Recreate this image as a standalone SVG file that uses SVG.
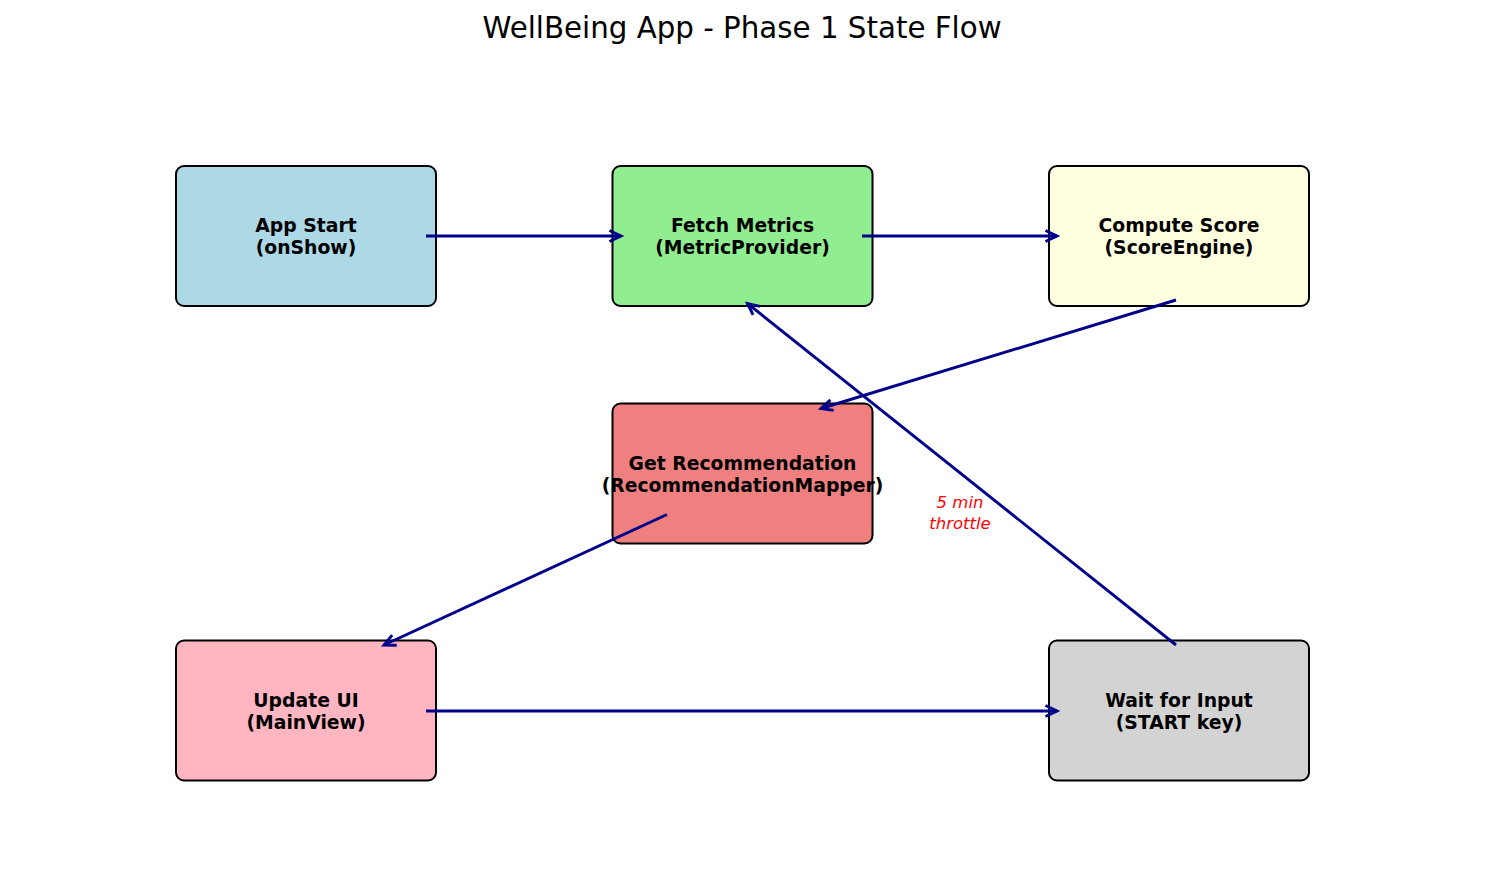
<svg xmlns="http://www.w3.org/2000/svg" width="1485" height="884" viewBox="0 0 1485 884">
<style>
.box{stroke:#000;stroke-width:2}
.lbl{font-family:"DejaVu Sans",sans-serif;font-weight:bold;font-size:18.8px;text-anchor:middle;fill:#000}
.title{font-family:"DejaVu Sans",sans-serif;font-size:29.3px;text-anchor:middle;fill:#000}
.note{font-family:"DejaVu Sans",sans-serif;font-style:italic;font-size:16.5px;text-anchor:middle;fill:#ff0000}
.conn{stroke:#00008B;stroke-width:2.9;fill:none;marker-end:url(#arr)}
</style>
<defs>
<marker id="arr" markerUnits="userSpaceOnUse" markerWidth="16" markerHeight="16" viewBox="-12 -8 16 16" refX="0" refY="0" orient="auto" overflow="visible">
<path d="M-11.5,-5.5 L0,0 L-11.5,5.5" fill="none" stroke="#00008B" stroke-width="2.9" stroke-linejoin="miter"/>
</marker>
</defs>
<rect width="1485" height="884" fill="#fff"/>
<text class="title" x="742" y="38">WellBeing App - Phase 1 State Flow</text>
<g id="node-app-start">
<rect class="box" x="176" y="166" width="260" height="140" rx="8" fill="#ADD8E6"/>
<text class="lbl" x="306" y="232">App Start</text>
<text class="lbl" x="306" y="254">(onShow)</text>
</g>
<g id="node-fetch-metrics">
<rect class="box" x="612.5" y="166" width="260" height="140" rx="8" fill="#90EE90"/>
<text class="lbl" x="742.5" y="232">Fetch Metrics</text>
<text class="lbl" x="742.5" y="254">(MetricProvider)</text>
</g>
<g id="node-compute-score">
<rect class="box" x="1049" y="166" width="260" height="140" rx="8" fill="#FFFFE0"/>
<text class="lbl" x="1179" y="232">Compute Score</text>
<text class="lbl" x="1179" y="254">(ScoreEngine)</text>
</g>
<g id="node-get-recommendation">
<rect class="box" x="612.5" y="403.5" width="260" height="140" rx="8" fill="#F08080"/>
<text class="lbl" x="742.5" y="469.5">Get Recommendation</text>
<text class="lbl" x="742.5" y="491.5">(RecommendationMapper)</text>
</g>
<g id="node-update-ui">
<rect class="box" x="176" y="640.5" width="260" height="140" rx="8" fill="#FFB6C1"/>
<text class="lbl" x="306" y="706.5">Update UI</text>
<text class="lbl" x="306" y="728.5">(MainView)</text>
</g>
<g id="node-wait-input">
<rect class="box" x="1049" y="640.5" width="260" height="140" rx="8" fill="#D3D3D3"/>
<text class="lbl" x="1179" y="706.5">Wait for Input</text>
<text class="lbl" x="1179" y="728.5">(START key)</text>
</g>
<g id="connectors">
<line class="conn" x1="426" y1="236" x2="621" y2="236"/>
<line class="conn" x1="862" y1="236" x2="1057" y2="236"/>
<line class="conn" x1="1176" y1="300" x2="821" y2="408.5"/>
<line class="conn" x1="667" y1="514.5" x2="384" y2="645"/>
<line class="conn" x1="426" y1="711" x2="1057" y2="711"/>
<line class="conn" x1="1176" y1="645" x2="747.5" y2="303.5"/>
</g>
<g id="note">
<text class="note" x="960" y="507.5">5 min</text>
<text class="note" x="960" y="528.5">throttle</text>
</g>
</svg>
